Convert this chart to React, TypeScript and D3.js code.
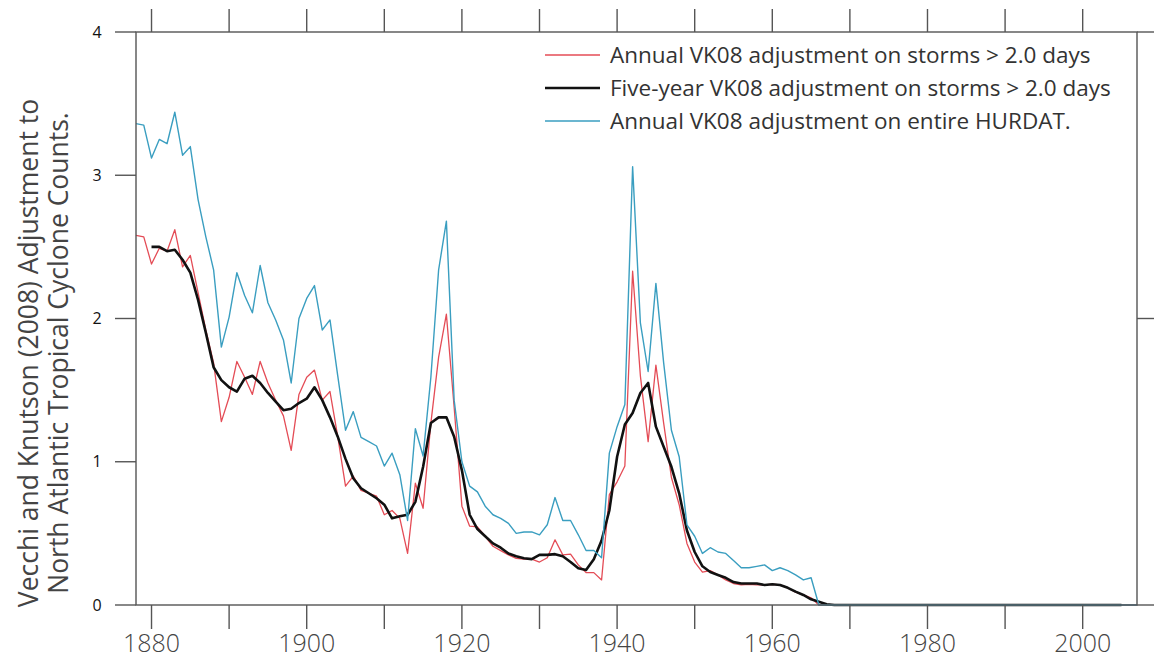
import React from 'react'
import * as d3 from 'd3'

// annual series start in 1878, five-year series starts in 1880
const annualStart = 1878
const fiveYearStart = 1880

const annualShort = [
  2.58, 2.57, 2.38, 2.49, 2.47, 2.62, 2.36, 2.44, 2.18, 1.92,
  1.69, 1.28, 1.45, 1.70, 1.59, 1.47, 1.70, 1.55, 1.43, 1.32,
  1.08, 1.47, 1.59, 1.64, 1.43, 1.49, 1.175, 0.83, 0.90, 0.80,
  0.78, 0.76, 0.63, 0.66, 0.605, 0.36, 0.85, 0.675, 1.27, 1.73,
  2.03, 1.38, 0.69, 0.55, 0.545, 0.48, 0.41, 0.38, 0.35, 0.326,
  0.32, 0.32, 0.30, 0.33, 0.455, 0.35, 0.355, 0.28, 0.226, 0.226,
  0.175, 0.77, 0.86, 0.97, 2.33, 1.6, 1.14, 1.675, 1.27, 0.89,
  0.70, 0.43, 0.30, 0.23, 0.24, 0.21, 0.175, 0.15, 0.14, 0.145,
  0.14, 0.14, 0.145, 0.14, 0.12, 0.09, 0.07, 0.05, 0,
  0, 0, 0, 0, 0, 0, 0, 0, 0, 0,
  0, 0, 0, 0, 0, 0, 0, 0, 0, 0,
  0, 0, 0, 0, 0, 0, 0, 0, 0, 0,
  0, 0, 0, 0, 0, 0, 0, 0, 0, 0, 0,
]

const annualHurdat = [
  3.36, 3.35, 3.12, 3.25, 3.22, 3.44, 3.14, 3.20, 2.83, 2.57,
  2.34, 1.80, 2.01, 2.32, 2.16, 2.04, 2.37, 2.11, 1.99, 1.85,
  1.55, 2.00, 2.14, 2.23, 1.92, 1.99, 1.60, 1.22, 1.35, 1.17,
  1.14, 1.11, 0.97, 1.06, 0.91, 0.59, 1.23, 1.04, 1.59, 2.34,
  2.68, 1.43, 1.0, 0.83, 0.79, 0.69, 0.63, 0.605, 0.57, 0.50,
  0.51, 0.51, 0.49, 0.56, 0.75, 0.59, 0.59, 0.49, 0.38, 0.38,
  0.33, 1.06, 1.245, 1.40, 3.06, 1.97, 1.63, 2.245, 1.69, 1.22,
  1.035, 0.56, 0.48, 0.36, 0.40, 0.37, 0.36, 0.31, 0.26, 0.26,
  0.27, 0.28, 0.24, 0.26, 0.24, 0.21, 0.175, 0.19, 0,
  0, 0, 0, 0, 0, 0, 0, 0, 0, 0,
  0, 0, 0, 0, 0, 0, 0, 0, 0, 0,
  0, 0, 0, 0, 0, 0, 0, 0, 0, 0,
  0, 0, 0, 0, 0, 0, 0, 0, 0, 0, 0,
]

const fiveYearShort = [
  2.50, 2.50, 2.47, 2.48, 2.41, 2.32, 2.13, 1.90, 1.66, 1.57,
  1.52, 1.49, 1.58, 1.60, 1.55, 1.48, 1.42, 1.36, 1.37, 1.41,
  1.44, 1.52, 1.43, 1.31, 1.175, 1.02, 0.885, 0.815, 0.78, 0.745,
  0.70, 0.605, 0.62, 0.63, 0.72, 0.965, 1.27, 1.31, 1.31, 1.175,
  0.94, 0.63, 0.53, 0.48, 0.43, 0.40, 0.36, 0.34, 0.326, 0.32,
  0.35, 0.35, 0.355, 0.34, 0.30, 0.256, 0.244, 0.32, 0.45, 0.66,
  1.035, 1.26, 1.34, 1.48, 1.55, 1.245, 1.105, 0.965, 0.78, 0.52,
  0.37, 0.27, 0.23, 0.21, 0.19, 0.16, 0.15, 0.15, 0.15, 0.14,
  0.145, 0.14, 0.12, 0.093, 0.07, 0.04, 0.023, 0.005, 0,
  0, 0, 0, 0, 0, 0, 0, 0, 0, 0,
  0, 0, 0, 0, 0, 0, 0, 0, 0, 0,
  0, 0, 0, 0, 0, 0, 0, 0, 0, 0,
  0, 0, 0, 0, 0, 0, 0,
]

const yTicks = [0, 1, 2, 3, 4]
const yRightTicks = [0, 2, 4]
const xTicks = [1880, 1890, 1900, 1910, 1920, 1930, 1940, 1950, 1960, 1970, 1980, 1990, 2000]
const xLabels = [1880, 1900, 1920, 1940, 1960, 1980, 2000]

const legendItems = [
  { label: 'Annual VK08 adjustment on storms > 2.0 days', color: '#e44c56', width: 1.3 },
  { label: 'Five-year VK08 adjustment on storms > 2.0 days', color: '#111', width: 2.6 },
  { label: 'Annual VK08 adjustment on entire HURDAT.', color: '#3a9ec0', width: 1.4 },
]

const yTitle = [
  'Vecchi and Knutson (2008) Adjustment to',
  'North Atlantic Tropical Cyclone Counts.',
]

export default function App() {
  const width = 1154
  const height = 661
  const left = 136, right = 1137, top = 32, bottom = 605

  const x = d3.scaleLinear().domain([1878, 2007]).range([left, right])
  const y = d3.scaleLinear().domain([0, 4]).range([bottom, top])

  const toPts = (vals: number[], start: number) =>
    vals.map((v, i) => [x(start + i), y(v)] as [number, number])

  const axisColor = '#555'
  const font = '"Open Sans", "DejaVu Sans", sans-serif'

  return (
    <div style={{ position: 'absolute', left: 0, top: 0 }}>
      <svg width={width} height={height} style={{ display: 'block', background: '#fff' }}>
        {/* series */}
        <path d={d3.line()(toPts(annualShort, annualStart)) ?? ''} fill="none"
          stroke={legendItems[0].color} strokeWidth={1.3} strokeLinejoin="round" />
        <path d={d3.line()(toPts(fiveYearShort, fiveYearStart)) ?? ''} fill="none"
          stroke={legendItems[1].color} strokeWidth={2.6} strokeLinejoin="round" />
        <path d={d3.line()(toPts(annualHurdat, annualStart)) ?? ''} fill="none"
          stroke={legendItems[2].color} strokeWidth={1.4} strokeLinejoin="round" />

        {/* frame */}
        <rect x={left} y={top} width={right - left} height={bottom - top}
          fill="none" stroke={axisColor} strokeWidth={1.4} />

        {/* y ticks */}
        {yTicks.map(t => (
          <g key={'y' + t}>
            <line x1={left - 21} x2={left} y1={y(t)} y2={y(t)} stroke={axisColor} strokeWidth={1.4} />
            <text x={97} y={y(t)} dy="0.35em" textAnchor="middle" fontSize={16}
              fontFamily={font} fill="#111">{t}</text>
          </g>
        ))}
        {yRightTicks.map(t => (
          <line key={'yr' + t} x1={right} x2={width} y1={y(t)} y2={y(t)} stroke={axisColor} strokeWidth={1.4} />
        ))}

        {/* x ticks top & bottom */}
        {xTicks.map(t => (
          <g key={'x' + t}>
            <line x1={x(t)} x2={x(t)} y1={top} y2={9} stroke={axisColor} strokeWidth={1.4} />
            <line x1={x(t)} x2={x(t)} y1={bottom} y2={629} stroke={axisColor} strokeWidth={1.4} />
          </g>
        ))}
        {xLabels.map(t => (
          <text key={'xl' + t} x={x(t)} y={652} textAnchor="middle" fontSize={25}
            fontFamily={font} fontWeight={300} fill="#444">{t}</text>
        ))}

        {/* legend */}
        {legendItems.map((d, i) => (
          <g key={d.label} transform={`translate(0, ${55 + i * 33})`}>
            <line x1={545} x2={600} y1={0} y2={0} stroke={d.color} strokeWidth={d.width} />
            <text x={610} y={0} dy="0.35em" fontSize={22.5} fontFamily={font} fill="#333">{d.label}</text>
          </g>
        ))}

        {/* y title */}
        <g transform="translate(29, 353) rotate(-90)">
          <text x={0} y={0} textAnchor="middle" fontSize={26.5} fontFamily={font} fill="#444"
            dy="0.35em">{yTitle[0]}</text>
          <text x={0} y={30} textAnchor="middle" fontSize={26.5} fontFamily={font} fill="#444"
            dy="0.35em">{yTitle[1]}</text>
        </g>
      </svg>
    </div>
  )
}
